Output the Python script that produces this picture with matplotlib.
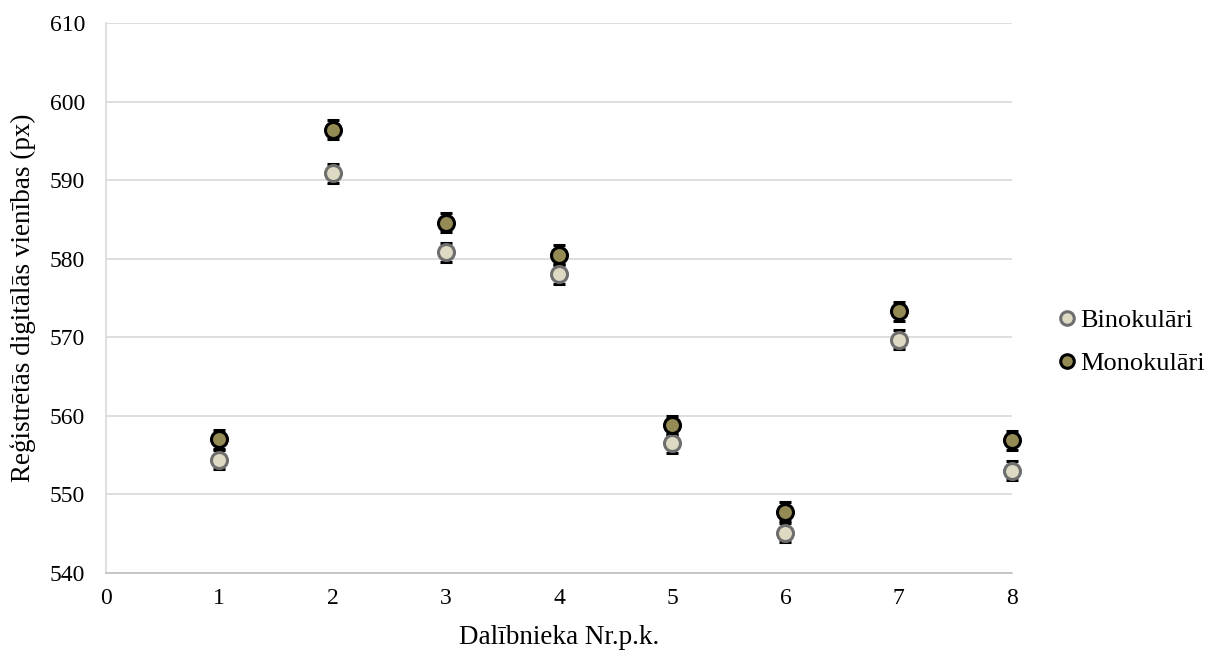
import matplotlib.pyplot as plt

plt.rcParams['font.family'] = ['Liberation Serif', 'DejaVu Serif']

participants = [1, 2, 3, 4, 5, 6, 7, 8]
binocular = [554.4, 590.9, 580.8, 578.0, 556.5, 545.1, 569.7, 553.0]
monocular = [557.0, 596.4, 584.6, 580.5, 558.8, 547.8, 573.3, 556.9]
bino_err = [1.2, 1.2, 1.2, 1.2, 1.2, 1.2, 1.2, 1.2]
mono_err = [1.2, 1.2, 1.2, 1.2, 1.2, 1.2, 1.2, 1.2]

fig = plt.figure(figsize=(12.09, 6.52), dpi=100)
ax = fig.add_axes([0.0877, 0.1212, 0.7493, 0.8435])

ax.errorbar(participants, binocular, yerr=bino_err, fmt="o", ms=11.5,
            mfc="#DDD9C3", mec="#6E6E6E", mew=2.2, ecolor="black",
            elinewidth=1.2, capsize=4.5, capthick=2.2, label="Binokulāri",
            clip_on=False, zorder=3)
ax.errorbar(participants, monocular, yerr=mono_err, fmt="o", ms=11.5,
            mfc="#948A54", mec="black", mew=2.2, ecolor="black",
            elinewidth=1.2, capsize=4.5, capthick=2.2, label="Monokulāri",
            clip_on=False, zorder=3)

ax.set_xlim(0, 8)
ax.set_ylim(540, 610)
ax.set_xticks(range(0, 9))
ax.set_yticks(range(540, 611, 10))
ax.tick_params(axis="y", length=0, labelsize=17, pad=15)
ax.tick_params(axis="x", length=0, labelsize=17, pad=11)
ax.grid(axis="y", color="#D9D9D9", linewidth=1.2)
ax.set_axisbelow(True)
for s in ["top", "right"]:
    ax.spines[s].set_visible(False)
ax.spines["left"].set_color("#D9D9D9")
ax.spines["bottom"].set_color("#BFBFBF")
ax.spines["left"].set_linewidth(1.2)
ax.spines["bottom"].set_linewidth(1.2)

ax.set_xlabel("Dalībnieka Nr.p.k.", fontsize=19.5, labelpad=11)
ax.set_ylabel("Reģistrētās digitālās vienības (px)", fontsize=19.5, labelpad=10)

handles, labels = ax.get_legend_handles_labels()
handles = [h[0] for h in handles]
fig.legend(handles, labels, loc="center left", bbox_to_anchor=(0.853, 0.476),
           frameon=False, fontsize=19, handletextpad=0.05, labelspacing=0.75,
           handlelength=0.9, markerscale=0.85)

fig.savefig("out.png", dpi=100)
